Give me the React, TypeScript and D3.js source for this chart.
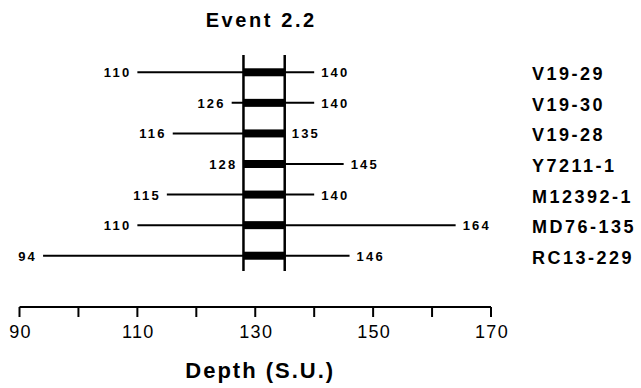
import React from 'react'
import * as d3 from 'd3'

const cores = ['V19-29', 'V19-30', 'V19-28', 'Y7211-1', 'M12392-1', 'MD76-135', 'RC13-229']
const minDepth = [110, 126, 116, 128, 115, 110, 94]
const maxDepth = [140, 140, 135, 145, 140, 164, 146]
const eventRange = [128, 135]
const ticks = [90, 100, 110, 120, 130, 140, 150, 160, 170]
const tickLabels = [90, 110, 130, 150, 170]

const width = 641
const height = 388
const font = '"Liberation Sans", Arial, sans-serif'

const App = () => {
  const x = d3.scaleLinear().domain([90, 170]).range([19.5, 491])
  const y = d3.scaleBand().domain(cores).range([57, 271])
  const rowY = (c: string) => (y(c) as number) + y.bandwidth() / 2
  const axisY = 307

  return (
    <svg width={width} height={height} style={{ position: 'absolute', left: 0, top: 0, background: '#fff' }}>
      <text x={x(130) + 6} y={27} textAnchor="middle" fontFamily={font} fontWeight="bold" fontSize={20} letterSpacing={2.6}>
        Event 2.2
      </text>

      {cores.map((c, i) => (
        <g key={c}>
          <line x1={x(minDepth[i])} x2={x(maxDepth[i])} y1={rowY(c)} y2={rowY(c)} stroke="#000" strokeWidth={2} />
          <rect
            x={x(eventRange[0])}
            width={x(eventRange[1]) - x(eventRange[0])}
            y={rowY(c) - 4}
            height={8}
            fill="#000"
          />
          <text x={x(minDepth[i]) - 6} y={rowY(c) + 5} textAnchor="end" fontFamily={font} fontWeight="bold" fontSize={13} letterSpacing={2.2}>
            {minDepth[i]}
          </text>
          <text x={x(maxDepth[i]) + 7} y={rowY(c) + 5} textAnchor="start" fontFamily={font} fontWeight="bold" fontSize={13} letterSpacing={2.2}>
            {maxDepth[i]}
          </text>
          <text x={532} y={rowY(c) + 8} fontFamily={font} fontWeight="bold" fontSize={18} letterSpacing={2.5}>
            {c}
          </text>
        </g>
      ))}

      {eventRange.map(v => (
        <line key={v} x1={x(v)} x2={x(v)} y1={55} y2={271} stroke="#000" strokeWidth={2.5} />
      ))}

      <line x1={x(90)} x2={x(170)} y1={axisY} y2={axisY} stroke="#000" strokeWidth={2} />
      {ticks.map(t => (
        <line key={t} x1={x(t)} x2={x(t)} y1={axisY} y2={axisY + 10} stroke="#000" strokeWidth={2} />
      ))}
      {tickLabels.map(t => (
        <text key={t} x={x(t) + 1} y={338} textAnchor="middle" fontFamily={font} fontSize={18} letterSpacing={1.3}>
          {t}
        </text>
      ))}

      <text x={x(130) + 5} y={378} textAnchor="middle" fontFamily={font} fontWeight="bold" fontSize={22} letterSpacing={2}>
        Depth (S.U.)
      </text>
    </svg>
  )
}

export default App
